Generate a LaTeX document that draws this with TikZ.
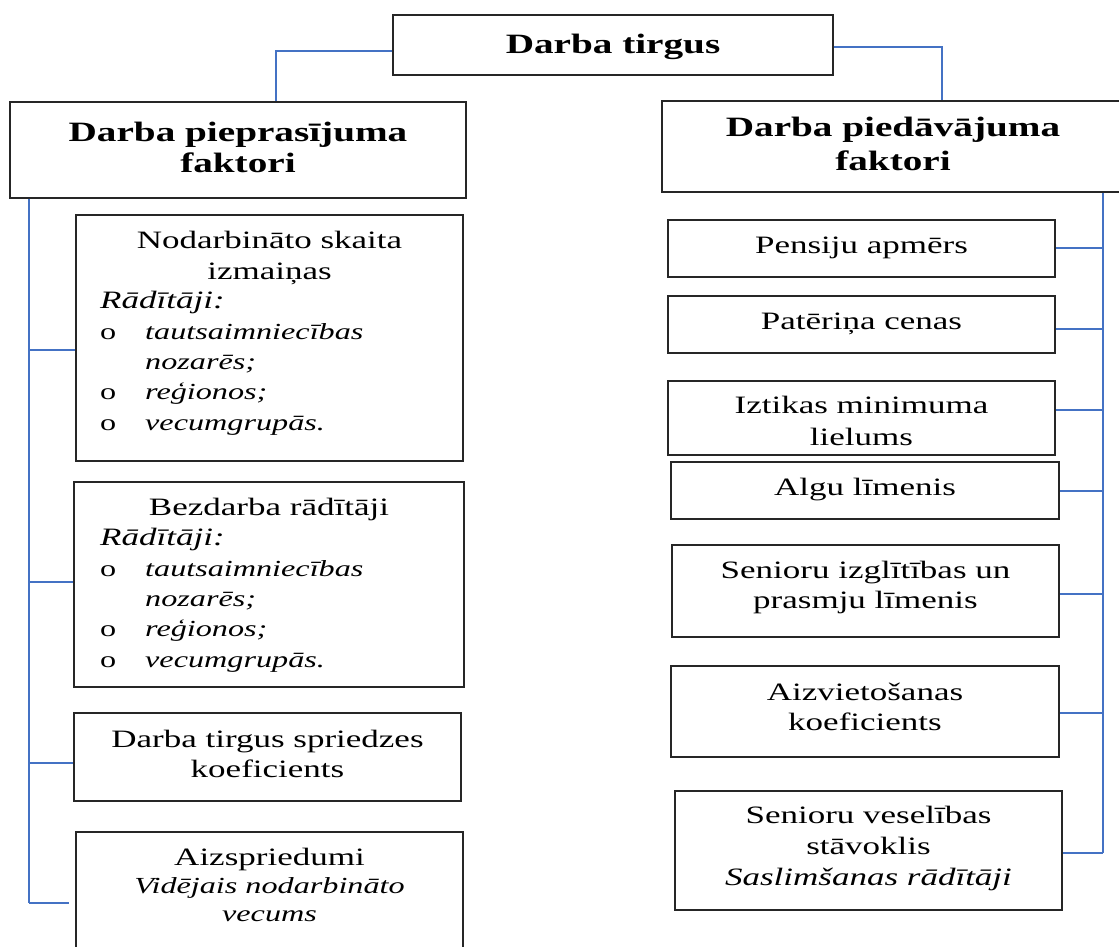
\documentclass[tikz,border=0pt]{standalone}
\usepackage{fontspec}
\setmainfont{Liberation Serif}[FakeStretch=1.4]
\definecolor{connblue}{HTML}{4472C4}
\newcommand{\lbul}{\makebox[45pt][l]{\upshape o}}
\newcommand{\lgap}{\makebox[45pt]{}}
\newcommand{\smit}[1]{{\fontsize{23}{28}\selectfont\itshape #1}}
\tikzset{
  box/.style={draw=black!85, line width=1.3pt, inner sep=0pt},
  link/.style={draw=connblue, line width=1.5pt},
  txt/.style={inner sep=0pt, anchor=base, align=center, font=\fontsize{25}{30}\selectfont},
  hdr/.style={inner sep=0pt, anchor=base, align=center, font=\fontsize{28}{31}\selectfont\bfseries},
  lst/.style={inner sep=0pt, anchor=base west, align=left, font=\fontsize{23}{30.3}\selectfont\itshape},
}
\begin{document}
\begin{tikzpicture}[x=1pt, y=-1pt]
\useasboundingbox (0,0) rectangle (1119,947);
% boxes
\node[box, minimum width=440, minimum height=60] (top) at (613,45) {};
\node[box, minimum width=456, minimum height=96] (LH) at (238,150) {};
\node[box, minimum width=462, minimum height=91] (RH) at (893,146.5) {};
\node[box, minimum width=387, minimum height=246] (L1) at (269.5,338) {};
\node[box, minimum width=390, minimum height=205] (L2) at (269,584.5) {};
\node[box, minimum width=387, minimum height=88] (L3) at (267.5,757) {};
\node[box, minimum width=387, minimum height=133] (L4) at (269.5,898.5) {};
\node[box, minimum width=387, minimum height=57] (R1) at (861.5,248.5) {};
\node[box, minimum width=387, minimum height=57] (R2) at (861.5,324.5) {};
\node[box, minimum width=387, minimum height=74] (R3) at (861.5,418) {};
\node[box, minimum width=388, minimum height=57] (R4) at (865,490.5) {};
\node[box, minimum width=387, minimum height=92] (R5) at (865.5,591) {};
\node[box, minimum width=388, minimum height=91] (R6) at (865,711.5) {};
\node[box, minimum width=387, minimum height=119] (R7) at (868.5,850.5) {};
% texts (anchor base = baseline of the last line)
\node[hdr] (topt) at (613,54) {Darba tirgus};
\node[hdr] (LHt) at (238,172) {Darba pieprasījuma\\faktori};
\node[hdr, font=\fontsize{28}{33}\selectfont\bfseries] (RHt) at (893,170) {Darba piedāvājuma\\faktori};
\node[txt, font=\fontsize{25}{31}\selectfont] (L1t) at (269.5,279) {Nodarbināto skaita\\izmaiņas};
\node[lst] (L1l) at (100,430) {{\fontsize{25}{30.3}\selectfont Rādītāji:}\\\lbul tautsaimniecības\\\lgap nozarēs;\\\lbul reģionos;\\\lbul vecumgrupās.};
\node[txt] (L2t) at (269,515) {Bezdarba rādītāji};
\node[lst] (L2l) at (100,667) {{\fontsize{25}{30.3}\selectfont Rādītāji:}\\\lbul tautsaimniecības\\\lgap nozarēs;\\\lbul reģionos;\\\lbul vecumgrupās.};
\node[txt] (L3t) at (267.5,777) {Darba tirgus spriedzes\\koeficients};
\node[txt, font=\fontsize{25}{28}\selectfont] (L4t) at (269.5,921) {Aizspriedumi\\\smit{Vidējais nodarbināto}\\\smit{vecums}};
\node[txt] (R1t) at (861.5,253) {Pensiju apmērs};
\node[txt] (R2t) at (861.5,329) {Patēriņa cenas};
\node[txt, font=\fontsize{25}{32}\selectfont] (R3t) at (861.5,445) {Iztikas minimuma\\lielums};
\node[txt] (R4t) at (865,495) {Algu līmenis};
\node[txt] (R5t) at (865.5,608) {Senioru izglītības un\\prasmju līmenis};
\node[txt] (R6t) at (865,730) {Aizvietošanas\\koeficients};
\node[txt, font=\fontsize{25}{31}\selectfont] (R7t) at (868.5,885) {Senioru veselības\\stāvoklis\\\textit{Saslimšanas rādītāji}};
% connectors top
\coordinate (lj) at (276,51);
\coordinate (rj) at (942,47);
\draw[link] (top.west |- lj) -| (LH.north -| lj);
\draw[link] (top.east |- rj) -| (RH.north -| rj);
% left trunk
\coordinate (lt) at (29,0);
\coordinate (lb1) at (29,350);
\coordinate (lb2) at (29,582);
\coordinate (lb3) at (29,763);
\coordinate (lb4) at (29,903);
\draw[link] (LH.south -| lt) -- (lb4);
\draw[link] (lb1) -- (lb1 -| L1.west);
\draw[link] (lb2) -- (lb2 -| L2.west);
\draw[link] (lb3) -- (lb3 -| L3.west);
\draw[link] (lb4) -- ([xshift=-6pt]lb4 -| L4.west);
% right trunk
\coordinate (rt) at (1103,0);
\coordinate (rb1) at (1103,248);
\coordinate (rb2) at (1103,329);
\coordinate (rb3) at (1103,410);
\coordinate (rb4) at (1103,491);
\coordinate (rb5) at (1103,594);
\coordinate (rb6) at (1103,713);
\coordinate (rb7) at (1103,853);
\draw[link] (RH.south -| rt) -- (rb7);
\draw[link] (rb1) -- (rb1 -| R1.east);
\draw[link] (rb2) -- (rb2 -| R2.east);
\draw[link] (rb3) -- (rb3 -| R3.east);
\draw[link] (rb4) -- (rb4 -| R4.east);
\draw[link] (rb5) -- (rb5 -| R5.east);
\draw[link] (rb6) -- (rb6 -| R6.east);
\draw[link] (rb7) -- (rb7 -| R7.east);
\end{tikzpicture}
\end{document}
